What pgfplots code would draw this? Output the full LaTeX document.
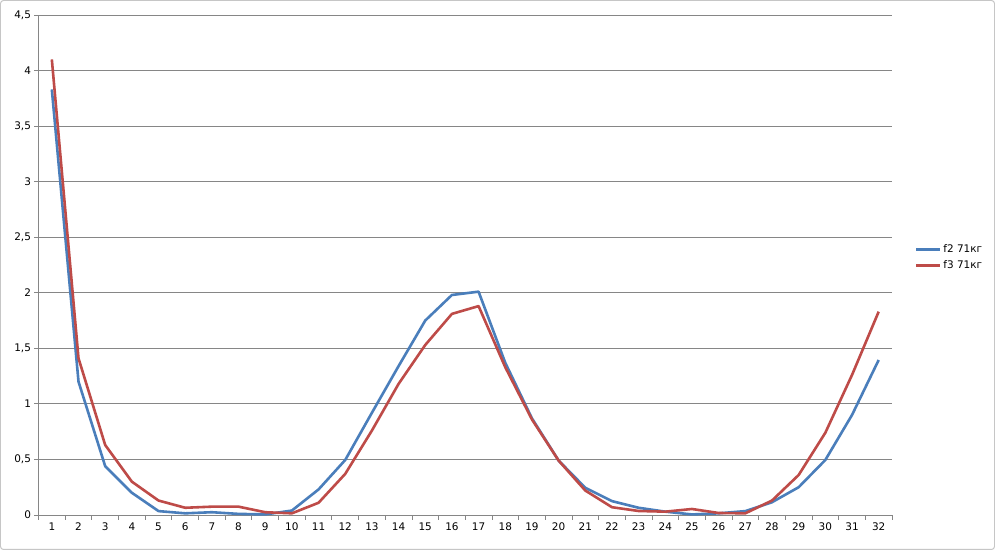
\documentclass[border=0pt]{standalone}
\usepackage{fontspec}
\setmainfont{DejaVu Sans}
\usepackage{pgfplots}
\pgfplotsset{compat=1.18}
\definecolor{xlblue}{HTML}{4A7EBB}
\definecolor{xlred}{HTML}{BE4B48}
\definecolor{gridc}{HTML}{868686}
\begin{document}
\begin{tikzpicture}[x=1bp,y=1bp]
\draw[draw=gray!45, line width=1bp, rounded corners=3bp, fill=white] (0.5,0.5) rectangle (994.5,549.5);
\begin{axis}[
  at={(38.5bp,35bp)}, anchor=origin,
  scale only axis, width=853.5bp, height=500bp,
  xmin=0.5, xmax=32.5, ymin=0, ymax=4.5,
  axis x line*=bottom, axis y line*=left,
  axis line style={draw=gridc, line width=0.8bp, -},
  xtick={1,...,32},
  minor xtick={0.5,1.5,...,32.5},
  major x tick style={draw=none},
  minor x tick style={draw=gridc, line width=0.8bp},
  minor tick length=5bp,
  ytick={0,0.5,...,4.5},
  major y tick style={draw=gridc, line width=0.8bp},
  major tick length=4bp,
  tick align=outside,
  ymajorgrids, grid style={draw=gridc, line width=0.8bp},
  yticklabel style={/pgf/number format/use comma, /pgf/number format/assume math mode=true, font=\fontsize{10.5}{12}\selectfont, black},
  xticklabel style={/pgf/number format/assume math mode=true, font=\fontsize{10.5}{12}\selectfont, black},
  legend style={at={(1.023,0.515)}, anchor=west, draw=none, fill=none, font=\fontsize{10.5}{12}\selectfont, row sep=3bp},
  legend cell align=left,
  legend image code/.code={\draw[#1, line width=2.6bp] (0bp,0bp) -- (24bp,0bp);},
  clip=false,
]
\addplot[xlblue, line width=2.6bp, line join=round] coordinates {
(1,3.83) (2,1.2) (3,0.44) (4,0.2) (5,0.035) (6,0.015) (7,0.025) (8,0.01)
(9,0.005) (10,0.04) (11,0.23) (12,0.495) (13,0.92) (14,1.34) (15,1.75) (16,1.98)
(17,2.01) (18,1.37) (19,0.87) (20,0.49) (21,0.245) (22,0.125) (23,0.065) (24,0.03)
(25,0.005) (26,0.015) (27,0.035) (28,0.115) (29,0.25) (30,0.495) (31,0.9) (32,1.395)
};
\addlegendentry{f2 71кг}
\addplot[xlred, line width=2.6bp, line join=round] coordinates {
(1,4.1) (2,1.41) (3,0.63) (4,0.3) (5,0.13) (6,0.065) (7,0.075) (8,0.075)
(9,0.025) (10,0.015) (11,0.11) (12,0.37) (13,0.76) (14,1.18) (15,1.53) (16,1.81)
(17,1.88) (18,1.33) (19,0.86) (20,0.49) (21,0.22) (22,0.07) (23,0.036) (24,0.03)
(25,0.054) (26,0.018) (27,0.015) (28,0.13) (29,0.36) (30,0.74) (31,1.26) (32,1.83)
};
\addlegendentry{f3 71кг}
\end{axis}
\end{tikzpicture}
\end{document}
